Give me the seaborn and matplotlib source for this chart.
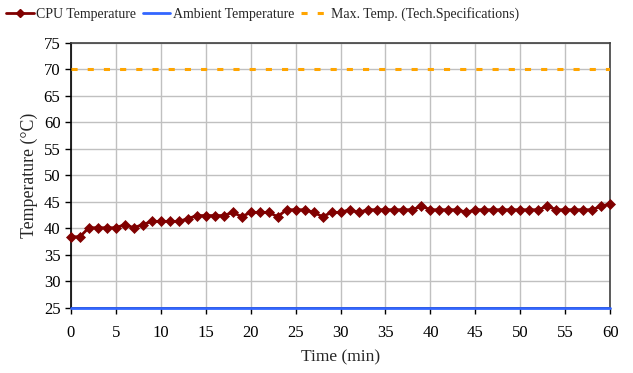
import matplotlib
matplotlib.use("Agg")
import matplotlib.pyplot as plt
import seaborn as sns
import pandas as pd
from matplotlib.lines import Line2D

minutes = list(range(0, 61))
cpu_temp = [38.4, 38.4, 40.1, 40.1, 40.1, 40.1, 40.7, 40.1, 40.7, 41.3,
            41.3, 41.3, 41.3, 41.8, 42.4, 42.4, 42.4, 42.4, 43.0, 42.2,
            43.0, 43.0, 43.0, 42.2, 43.5, 43.5, 43.5, 43.0, 42.2, 43.0,
            43.0, 43.5, 43.0, 43.5, 43.5, 43.5, 43.5, 43.5, 43.5, 44.2,
            43.5, 43.5, 43.5, 43.5, 43.0, 43.5, 43.5, 43.5, 43.5, 43.5,
            43.5, 43.5, 43.5, 44.2, 43.5, 43.5, 43.5, 43.5, 43.5, 44.2,
            44.6]
ambient_temp = [25.0] * 61
max_temp = [70.0] * 61

x_ticks = list(range(0, 61, 5))
y_ticks = list(range(25, 76, 5))

sns.set_theme(style="white")
plt.rcParams['font.family'] = ['Liberation Serif', 'DejaVu Serif']

df = pd.DataFrame({"Time": minutes, "CPU": cpu_temp,
                   "Ambient": ambient_temp, "Max": max_temp})

fig = plt.figure(figsize=(6.33, 3.73), dpi=100)
ax = fig.add_axes([0.112, 0.175, 0.852, 0.71])

ORANGE = "#FFA500"
BLUE = "#3366FF"
RED = "#800000"
DASH = [2.0, 3.3]

sns.lineplot(data=df, x="Time", y="Max", ax=ax, color=ORANGE, lw=2.2,
             zorder=3)
ax.lines[-1].set_dashes(DASH)
sns.lineplot(data=df, x="Time", y="Ambient", ax=ax, color=BLUE, lw=2.0,
             zorder=4, clip_on=False)
sns.lineplot(data=df, x="Time", y="CPU", ax=ax, color=RED, lw=2.0,
             marker="D", markersize=4.8, markeredgewidth=0.5,
             markeredgecolor=RED, zorder=5, clip_on=False)

ax.set_xlim(0, 60)
ax.set_ylim(25, 75)
ax.set_xticks(x_ticks)
ax.set_yticks(y_ticks)
ax.grid(True, color="#c0c0c0", lw=1.0)
ax.set_axisbelow(True)
for side in ["top", "right"]:
    ax.spines[side].set_color("#404040")
    ax.spines[side].set_linewidth(1.2)
for side in ["left", "bottom"]:
    ax.spines[side].set_color("black")
    ax.spines[side].set_linewidth(1.2)
ax.tick_params(axis="both", which="major", direction="out", length=4.5,
               width=1, colors="black", labelsize=12, left=True, bottom=True)
ax.tick_params(axis="y", pad=3)
ax.tick_params(axis="x", pad=8)
ax.set_xlabel("Time (min)", fontsize=12.5, labelpad=6)
ax.set_ylabel("Temperature (°C)", fontsize=12.8, labelpad=4)

handles = [
    Line2D([], [], color=RED, lw=2, marker="D", markersize=4),
    Line2D([], [], color=BLUE, lw=2),
    Line2D([], [], color=ORANGE, lw=2.2, dashes=DASH),
]
labels = ["CPU Temperature", "Ambient Temperature",
          "Max. Temp. (Tech.Specifications)"]
fig.legend(handles, labels, loc="center", bbox_to_anchor=(0.415, 0.963),
           ncol=3, frameon=False, fontsize=10, handlelength=2.0,
           handletextpad=0.2, columnspacing=0.45, borderaxespad=0)

fig.savefig("out.png", dpi=100)
